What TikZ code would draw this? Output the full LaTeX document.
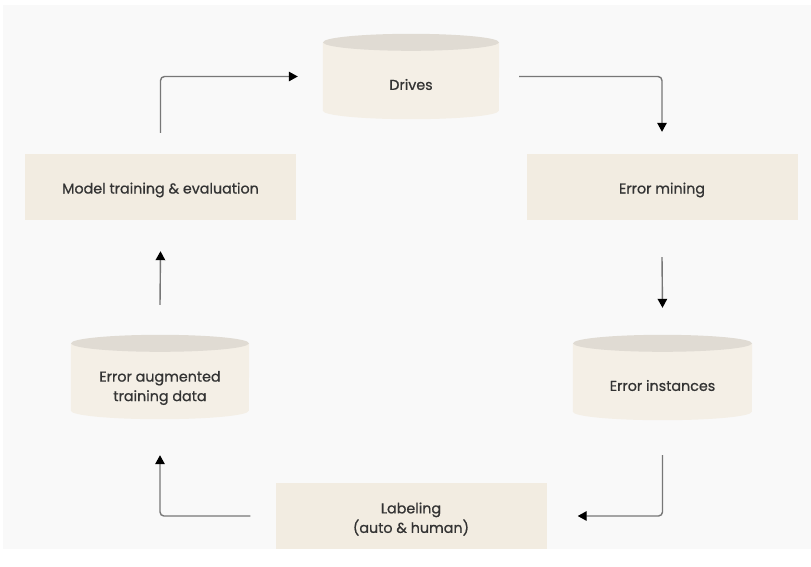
\documentclass[tikz,border=0pt]{standalone}
\usepackage{fontspec}
\setmainfont{Poppins}[FakeBold=0.8]
\usetikzlibrary{arrows.meta}

\definecolor{pagebg}{HTML}{F9F9F9}
\definecolor{boxfill}{HTML}{F2ECE1}
\definecolor{drumbody}{HTML}{F4EFE6}
\definecolor{drumtop}{HTML}{E0DBD3}
\definecolor{inktext}{HTML}{333333}
\definecolor{flowline}{HTML}{777777}

\tikzset{
  stepbox/.style={rectangle, fill=boxfill, inner sep=0pt,
    minimum width=271pt, minimum height=66pt},
  drumnode/.style={rectangle, inner sep=0pt},
  caption/.style={text=inktext, font=\fontsize{14.3}{19.5}\selectfont, align=center},
  flow/.style={draw=flowline, line width=1.4pt, rounded corners=4pt,
    -{Triangle[length=9pt,width=9.5pt,fill=black,color=black]}},
}

% cylinder drawn around an already placed node #1 of half width #2, cap radius #3
\newcommand\drumshape[3]{%
  \fill[drumbody] ([yshift=-#3]#1.north west)
    -- ([yshift=#3]#1.south west)
    arc[start angle=180, end angle=360, x radius=#2, y radius=#3]
    -- ([yshift=-#3]#1.north east) -- cycle;
  \fill[drumtop] ([yshift=-#3]#1.north) ellipse[x radius=#2, y radius=#3];
}

\begin{document}
\begin{tikzpicture}[x=1pt, y=-1pt]
\useasboundingbox (0,0) rectangle (811,566);
\fill[white] (0,0) rectangle (811,566);
\fill[pagebg] (3,5) rectangle (811,549);

% process steps
\node[stepbox] (train) at (160.5,187) {};
\node[caption] (trainT) at ([yshift=-3pt]train.center) {Model training \& evaluation};
\node[stepbox] (mining) at (662,187) {};
\node[caption] (miningT) at ([yshift=-3pt]mining.center) {Error mining};
\node[stepbox] (label) at (411,516) {};
\node[caption] (labelT) at ([yshift=-3pt]label.center) {Labeling\\(auto \& human)};

% data stores
\node[drumnode, minimum width=176pt, minimum height=85pt] (drives) at (411,76.5) {};
\drumshape{drives}{88pt}{8.5pt}
\node[caption] (drivesT) at ([yshift=-8pt]drives.center) {Drives};

\node[drumnode, minimum width=178pt, minimum height=84pt] (aug) at (160,377) {};
\drumshape{aug}{89pt}{8.5pt}
\node[caption] (augT) at ([yshift=-11pt]aug.center) {Error augmented\\training data};

\node[drumnode, minimum width=179pt, minimum height=85pt] (inst) at (662.5,377.5) {};
\drumshape{inst}{89.5pt}{8.5pt}
\node[caption] (instT) at ([yshift=-8pt]inst.center) {Error instances};

% loop
\draw[flow] ([yshift=21pt]train.north) |- ([xshift=-25pt]drives.west);
\draw[flow] ([xshift=20pt]drives.east) -| ([yshift=22pt]mining.north);
\draw[flow] ([yshift=-37pt]mining.south) -- ([yshift=27pt]inst.north);
\draw[flow] ([yshift=-35pt]inst.south) |- ([xshift=31pt]label.east);
\draw[flow] ([xshift=-25pt]label.west) -| ([yshift=-36pt]aug.south);
\draw[flow] ([yshift=30pt]aug.north) -- ([yshift=-31pt]train.south);
\end{tikzpicture}
\end{document}
